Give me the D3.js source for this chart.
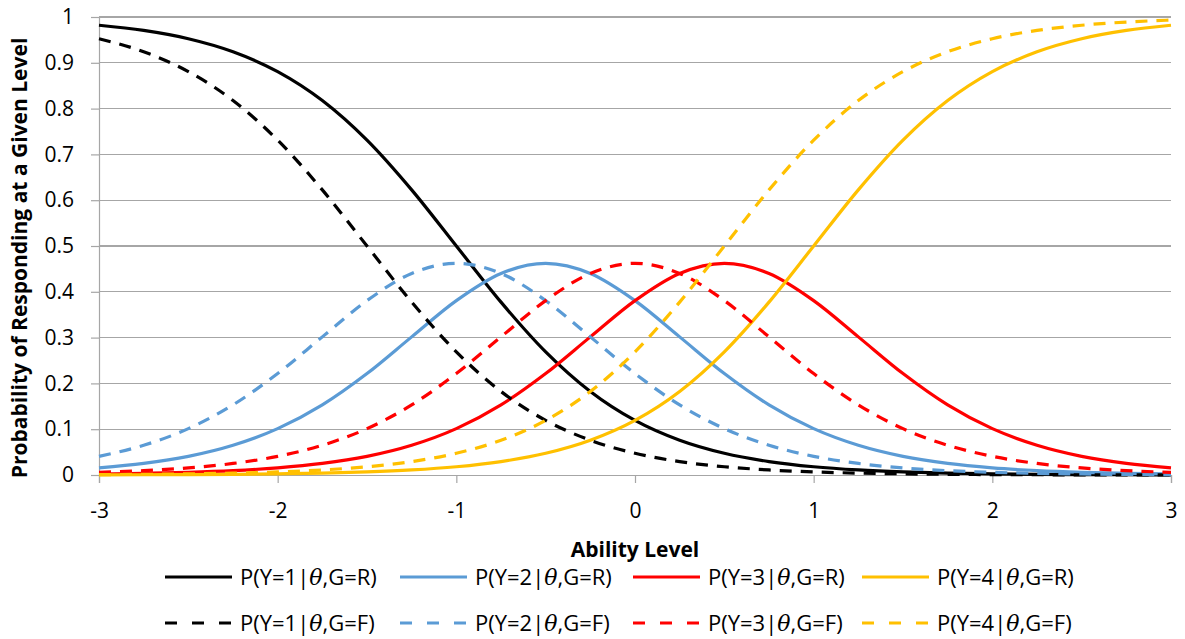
<!DOCTYPE html>
<html><head><meta charset="utf-8">
<script src="https://cdn.jsdelivr.net/npm/d3@7"></script>
<style>
html,body{margin:0;padding:0;background:#fff;}
svg{display:block;}
text{font-family:"Open Sans",Lato,sans-serif;fill:#000;}
</style></head>
<body><svg id="c" width="1185" height="639"></svg>
<script>
// Ability levels (theta)
const theta = [-3,-2.75,-2.5,-2.25,-2,-1.75,-1.5,-1.25,-1,-0.75,-0.5,-0.25,0,0.25,0.5,0.75,1,1.25,1.5,1.75,2,2.25,2.5,2.75,3];
// Reference group (G=R)
const p1R = [0.982,0.9707,0.9526,0.9241,0.8808,0.8176,0.7311,0.6225,0.5,0.3775,0.2689,0.1824,0.1192,0.0759,0.0474,0.0293,0.018,0.011,0.0067,0.0041,0.0025,0.0015,0.0009,0.0006,0.0003];
const p2R = [0.0155,0.0252,0.0407,0.0649,0.1012,0.1531,0.2215,0.3016,0.3808,0.4401,0.4622,0.4401,0.3808,0.3016,0.2215,0.1531,0.1012,0.0649,0.0407,0.0252,0.0155,0.0095,0.0058,0.0036,0.0022];
const p3R = [0.0022,0.0036,0.0058,0.0095,0.0155,0.0252,0.0407,0.0649,0.1012,0.1531,0.2215,0.3016,0.3808,0.4401,0.4622,0.4401,0.3808,0.3016,0.2215,0.1531,0.1012,0.0649,0.0407,0.0252,0.0155];
const p4R = [0.0003,0.0006,0.0009,0.0015,0.0025,0.0041,0.0067,0.011,0.018,0.0293,0.0474,0.0759,0.1192,0.1824,0.2689,0.3775,0.5,0.6225,0.7311,0.8176,0.8808,0.9241,0.9526,0.9707,0.982];
// Focal group (G=F)
const p1F = [0.9526,0.9241,0.8808,0.8176,0.7311,0.6225,0.5,0.3775,0.2689,0.1824,0.1192,0.0759,0.0474,0.0293,0.018,0.011,0.0067,0.0041,0.0025,0.0015,0.0009,0.0006,0.0003,0.0002,0.0001];
const p2F = [0.0407,0.0649,0.1012,0.1531,0.2215,0.3016,0.3808,0.4401,0.4622,0.4401,0.3808,0.3016,0.2215,0.1531,0.1012,0.0649,0.0407,0.0252,0.0155,0.0095,0.0058,0.0036,0.0022,0.0013,0.0008];
const p3F = [0.0058,0.0095,0.0155,0.0252,0.0407,0.0649,0.1012,0.1531,0.2215,0.3016,0.3808,0.4401,0.4622,0.4401,0.3808,0.3016,0.2215,0.1531,0.1012,0.0649,0.0407,0.0252,0.0155,0.0095,0.0058];
const p4F = [0.0009,0.0015,0.0025,0.0041,0.0067,0.011,0.018,0.0293,0.0474,0.0759,0.1192,0.1824,0.2689,0.3775,0.5,0.6225,0.7311,0.8176,0.8808,0.9241,0.9526,0.9707,0.982,0.989,0.9933];

const xTicks = [-3,-2,-1,0,1,2,3];
const yTicks = [0,0.1,0.2,0.3,0.4,0.5,0.6,0.7,0.8,0.9,1];
const xTitle = "Ability Level";
const yTitle = "Probability of Responding at a Given Level";
const seriesLevels = ["1","2","3","4","1","2","3","4"];
const seriesGroups = ["R","R","R","R","F","F","F","F"];
const seriesValues = [p1R,p2R,p3R,p4R,p1F,p2F,p3F,p4F];
const seriesColors = ["#000000","#5B9BD5","#FF0000","#FFC000","#000000","#5B9BD5","#FF0000","#FFC000"];

const svg = d3.select("#c");
const L = 99, R = 1171, T = 17, B = 475;
const x = d3.scaleLinear().domain([-3,3]).range([L,R]);
const y = d3.scaleLinear().domain([0,1]).range([B,T]);
const gridCol = "#A6A6A6";

// gridlines
svg.append("g").selectAll("line").data(yTicks.filter(d=>d>0)).join("line")
  .attr("x1",L).attr("x2",R).attr("y1",d=>y(d)).attr("y2",d=>y(d))
  .attr("stroke",gridCol).attr("stroke-width",1.2).attr("shape-rendering","crispEdges");

// axes
const yAxis = svg.append("g").attr("transform",`translate(${L},0)`)
  .call(d3.axisLeft(y).tickValues(yTicks).tickSize(8).tickPadding(17).tickFormat(d=>d3.format("")(+d.toFixed(1))));
const xAxis = svg.append("g").attr("transform",`translate(0,${B})`)
  .call(d3.axisBottom(x).tickValues(xTicks).tickSize(8).tickPadding(20).tickFormat(d=>d));
[yAxis,xAxis].forEach(a=>{
  a.select(".domain").attr("stroke",gridCol).attr("stroke-width",1.2);
  a.selectAll(".tick line").attr("stroke",gridCol).attr("stroke-width",1.2);
  a.selectAll("text").attr("font-size",21).attr("font-family","'Open Sans', sans-serif").attr("fill","#000");
});

// lines
const line = d3.line().x((d,i)=>x(theta[i])).y(d=>y(d)).curve(d3.curveMonotoneX);
seriesValues.forEach((vals,k)=>{
  svg.append("path").datum(vals).attr("d",line)
    .attr("fill","none").attr("stroke",seriesColors[k]).attr("stroke-width",3.2)
    .attr("stroke-linejoin","round")
    .attr("stroke-dasharray",seriesGroups[k]==="F"?"12,9":null);
});

// axis titles
svg.append("text").attr("x",(L+R)/2).attr("y",557).attr("text-anchor","middle")
  .attr("font-size",21).attr("font-weight","bold").text(xTitle);
svg.append("text").attr("transform",`translate(27,258) rotate(-90)`).attr("text-anchor","middle")
  .attr("font-size",21).attr("font-weight","bold").text(yTitle);

// legend
const legX = [165,400,633,862];
const legY = [577,623];
seriesValues.forEach((v,k)=>{
  const col = k%4, row = Math.floor(k/4);
  const g = svg.append("g").attr("transform",`translate(${legX[col]},${legY[row]})`);
  g.append("line").attr("x1",0).attr("x2",67).attr("y1",0).attr("y2",0)
    .attr("stroke",seriesColors[k]).attr("stroke-width",3.2)
    .attr("stroke-dasharray",seriesGroups[k]==="F"?"12,15":null);
  const t = g.append("text").attr("x",75).attr("y",7.5).attr("font-size",22);
  t.append("tspan").text(`P(Y=${seriesLevels[k]}|`);
  t.append("tspan").attr("font-family","DejaVu Serif, serif").attr("font-style","italic").text("θ");
  t.append("tspan").text(`,G=${seriesGroups[k]})`);
});
</script></body></html>
